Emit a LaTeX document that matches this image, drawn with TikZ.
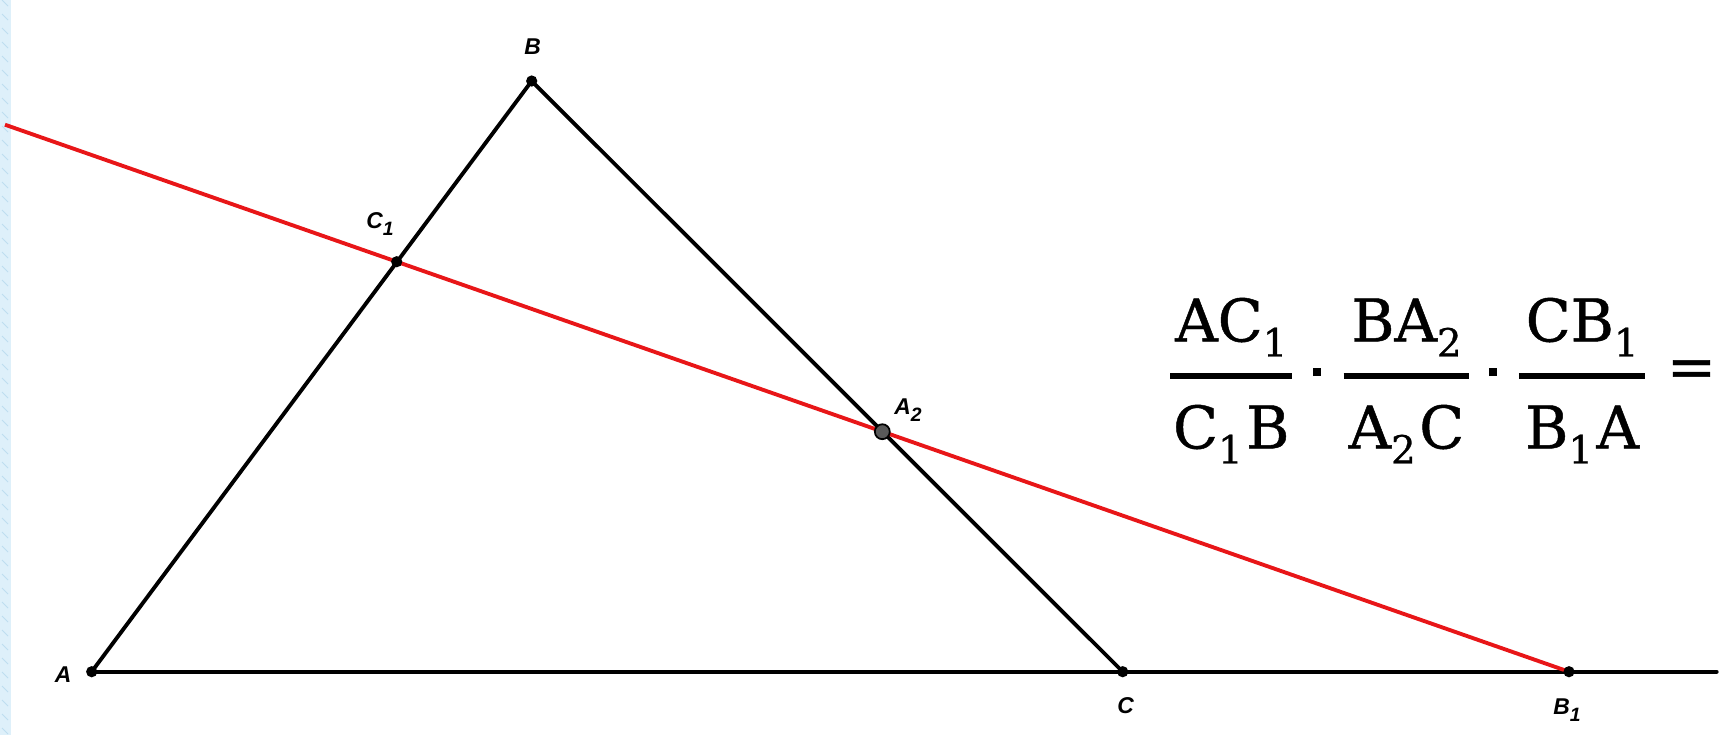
\documentclass[tikz,border=0pt]{standalone}
\usepackage{amsmath}
\usepackage{fontspec}
\setmainfont{DejaVu Serif}
\setsansfont{Liberation Sans}
\newfontfamily\ratiofont[FakeBold=0.8]{DejaVu Serif}
\usepackage{tikz}
\usetikzlibrary{calc}
\definecolor{menred}{RGB}{232,22,24}
\definecolor{stripblue}{RGB}{222,240,250}
\definecolor{stripdash}{RGB}{190,222,240}
\newcommand{\ptfont}{\sffamily\bfseries\itshape\fontsize{13}{15}\selectfont}
\newcommand{\lsub}[1]{\raisebox{-0.55ex}{\fontsize{11}{12}\selectfont #1}}
% formula pieces
\newcommand{\fsub}[1]{\raisebox{-8.5pt}{\fontsize{22}{24}\selectfont #1}}
\newcommand{\ratio}[3]{{\genfrac{}{}{3.2pt}{0}{\makebox[#1]{#2}}%
  {\makebox[#1]{\rule{0pt}{30pt}#3}}}}
\newcommand{\tdot}{{\raisebox{6.25pt}{\rule{4.5pt}{4.5pt}}}}
\tikzset{
  side/.style={line width=2.2pt, line cap=round},
  secant/.style={line width=2.2pt, menred},
  pt/.style={circle, fill=black, inner sep=0pt, minimum size=6.4pt},
  ptlabel/.style={font=\ptfont, inner sep=0pt}
}

\begin{document}
\begin{tikzpicture}[x=0.02cm,y=-0.02cm]
  \useasboundingbox (0,0) rectangle (1730,735);
  % left strip
  \fill[stripblue] (0,0) rectangle (11,735);
  \foreach \k in {0,14,...,728}
    \draw[stripdash, line width=0.5pt] (2,\k) -- (8,\k+6);

  \coordinate (A)  at (91.7,671.7);
  \coordinate (B)  at (531.7,81);
  \coordinate (C)  at (1122.7,671.7);
  \coordinate (B1) at (1569,671.7);
  \coordinate (C1) at (396.7,261.7);
  \coordinate (A2) at (882.3,431.7);
  \coordinate (rend) at (5,124.7);
  \coordinate (bend) at (1716.7,671.7);

  % triangle and line AC
  \draw[side] (A) -- (B) -- (C);
  \draw[side] (A) -- (bend);
  % transversal
  \draw[secant] (rend) -- (B1);

  \node[pt] (pA)  at (A)  {};
  \node[pt] (pB)  at (B)  {};
  \node[pt] (pC)  at (C)  {};
  \node[pt] (pB1) at (B1) {};
  \node[pt] (pC1) at (C1) {};
  \node[circle, draw=black, fill=black!65, line width=1pt, inner sep=0pt,
        minimum size=8.5pt] (pA2) at (A2) {};

  \node[ptlabel] (lA)  at (63,675)     {A};
  \node[ptlabel] (lB)  at (532.7,46.7) {B};
  \node[ptlabel] (lC)  at (1125.7,706) {C};
  \node[ptlabel] (lB1) at (1567,710)   {B\lsub{1}};
  \node[ptlabel] (lC1) at (380,224)    {C\lsub{1}};
  \node[ptlabel] (lA2) at (908,410)    {A\lsub{2}};

  % Menelaus ratio
  \node[inner sep=0pt, anchor=base west, font=\ratiofont\fontsize{33.5}{40}\selectfont]
    (ratio) at (1168,387)
    {$\ratio{69.2pt}{AC\fsub{1}}{C\fsub{1}\kern2pt B}\hspace{10.7pt}\tdot\hspace{11.8pt}%
      \ratio{71.4pt}{BA\fsub{2}}{A\fsub{2}\kern2pt C}\hspace{10.1pt}\tdot\hspace{11.3pt}%
      \ratio{72pt}{CB\fsub{1}}{B\fsub{1}\kern2pt A}\hspace{11pt}{\text{=}}$};
\end{tikzpicture}
\end{document}
